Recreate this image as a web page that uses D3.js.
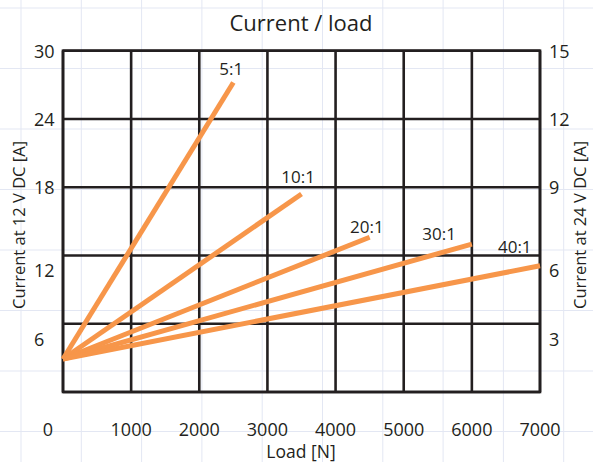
<!DOCTYPE html>
<html>
<head>
<meta charset="utf-8">
<script src="https://cdn.jsdelivr.net/npm/d3@7"></script>
<style>
  body { margin: 0; background: #fff; }
  svg text { font-family: "Open Sans", sans-serif; fill: #231f20; }
</style>
</head>
<body>
<svg width="593" height="462"></svg>
<script>
// data
var loadTicks = [0, 1000, 2000, 3000, 4000, 5000, 6000, 7000];
var current12Ticks = [6, 12, 18, 24, 30];
var current24Ticks = [3, 6, 9, 12, 15];
var ratios = ["5:1", "10:1", "20:1", "30:1", "40:1"];
var startCurrent = 2.9;          // all lines start at load 0
var endLoad = [2500, 3500, 4500, 6000, 7000];
var endCurrent = [27.2, 17.4, 13.6, 13.0, 11.1];
var labelLoad = [2470, 3450, 4460, 5520, 6630];
var labelCurrent = [27.9, 18.4, 14.0, 13.4, 12.2];

var width = 593, height = 462;
var svg = d3.select('svg');

// faint graph-paper background
var bg = svg.append('g').attr('stroke', '#e3e7f3').attr('stroke-width', 1);
bg.selectAll('line.v')
  .data(d3.range(21, width, 60.3))
  .enter().append('line')
  .attr('x1', d => d).attr('x2', d => d)
  .attr('y1', 0).attr('y2', height);
bg.selectAll('line.h')
  .data(d3.range(8, height, 60.5))
  .enter().append('line')
  .attr('y1', d => d).attr('y2', d => d)
  .attr('x1', 0).attr('x2', width);

var x = d3.scaleLinear().domain([0, 7000]).range([63, 540]);
var y = d3.scaleLinear().domain([0, 30]).range([392, 50.7]);
var yRight = d3.scaleLinear().domain([0, 15]).range([392, 50.7]);

// grid + frame
var grid = svg.append('g')
  .attr('stroke', '#231f20')
  .attr('stroke-width', 2.6)
  .attr('fill', 'none');
grid.selectAll('line.gx')
  .data(loadTicks)
  .enter().append('line')
  .attr('x1', d => x(d)).attr('x2', d => x(d))
  .attr('y1', y(0)).attr('y2', y(30));
grid.selectAll('line.gy')
  .data([0].concat(current12Ticks))
  .enter().append('line')
  .attr('y1', d => y(d)).attr('y2', d => y(d))
  .attr('x1', x(0)).attr('x2', x(7000));
grid.append('rect')
  .attr('x', x(0)).attr('y', y(30))
  .attr('width', x(7000) - x(0))
  .attr('height', y(0) - y(30));

// orange lines
svg.append('g')
  .selectAll('line')
  .data(ratios)
  .enter().append('line')
  .attr('x1', x(0))
  .attr('y1', y(startCurrent))
  .attr('x2', (d, i) => x(endLoad[i]))
  .attr('y2', (d, i) => y(endCurrent[i]))
  .attr('stroke', '#f7964a')
  .attr('stroke-width', 5);

// ratio labels
svg.append('g')
  .selectAll('text')
  .data(ratios)
  .enter().append('text')
  .attr('x', (d, i) => x(labelLoad[i]))
  .attr('y', (d, i) => y(labelCurrent[i]))
  .attr('text-anchor', 'middle')
  .style('font-size', '17px')
  .text(d => d);

// tick labels (lower two sit below their gridlines, as in the original)
function tickY(scale, d, low) {
  return scale(d) + (d <= low ? 16 : 1) + 6;
}
svg.append('g')
  .selectAll('text')
  .data(current12Ticks)
  .enter().append('text')
  .attr('x', 34)
  .attr('y', d => tickY(y, d, 12))
  .style('font-size', '18px')
  .text(d => d);
svg.append('g')
  .selectAll('text')
  .data(current24Ticks)
  .enter().append('text')
  .attr('x', 549)
  .attr('y', d => tickY(yRight, d, 6))
  .style('font-size', '18px')
  .text(d => d);
svg.append('g')
  .selectAll('text')
  .data(loadTicks)
  .enter().append('text')
  .attr('x', d => d === 0 ? x(d) - 15 : x(d))
  .attr('y', 436)
  .attr('text-anchor', 'middle')
  .style('font-size', '18px')
  .text(d => d);

// titles
svg.append('text')
  .attr('x', 301).attr('y', 31)
  .attr('text-anchor', 'middle')
  .style('font-size', '22px')
  .text('Current / load');
svg.append('text')
  .attr('x', 301).attr('y', 458)
  .attr('text-anchor', 'middle')
  .style('font-size', '17.5px')
  .text('Load [N]');
svg.append('text')
  .attr('transform', 'translate(25,225) rotate(-90)')
  .attr('text-anchor', 'middle')
  .style('font-size', '16.5px')
  .text('Current at 12 V DC [A]');
svg.append('text')
  .attr('transform', 'translate(586,225) rotate(-90)')
  .attr('text-anchor', 'middle')
  .style('font-size', '16.5px')
  .text('Current at 24 V DC [A]');
</script>
</body>
</html>
